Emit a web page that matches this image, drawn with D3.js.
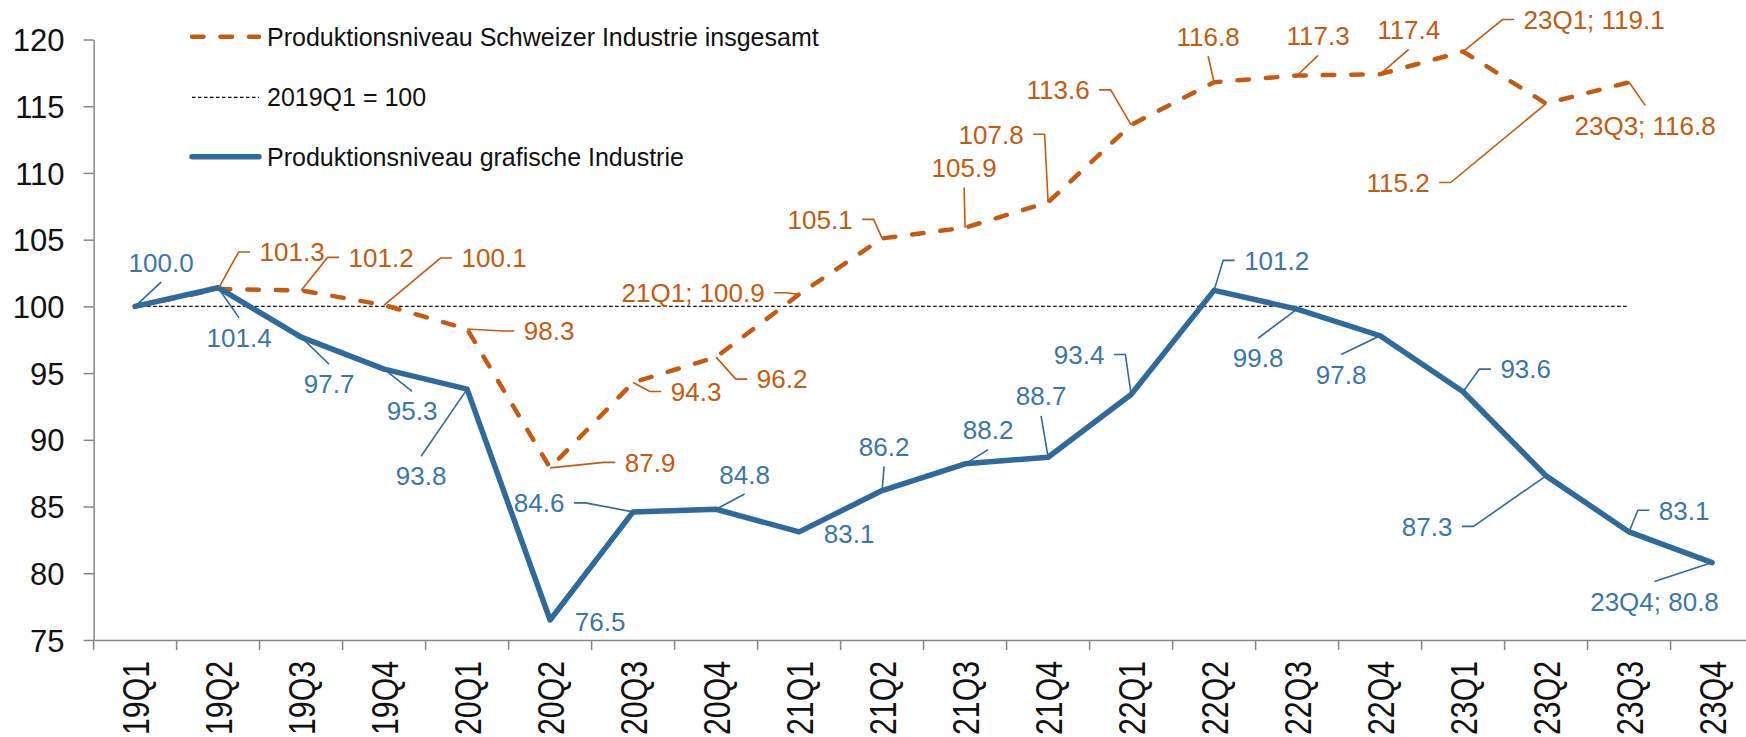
<!DOCTYPE html>
<html>
<head>
<meta charset="utf-8">
<script src="https://cdn.jsdelivr.net/npm/d3@7"></script>
<style>
  html, body { margin: 0; padding: 0; background: #ffffff; }
  svg { display: block; }
</style>
</head>
<body>
<svg id="chart" width="1746" height="737"></svg>
<script>
// ---------- data ----------
const categories = ["19Q1","19Q2","19Q3","19Q4","20Q1","20Q2","20Q3","20Q4","21Q1","21Q2",
                    "21Q3","21Q4","22Q1","22Q2","22Q3","22Q4","23Q1","23Q2","23Q3","23Q4"];
const industryTotal = [100.0,101.3,101.2,100.1,98.3,87.9,94.3,96.2,100.9,105.1,
                       105.9,107.8,113.6,116.8,117.3,117.4,119.1,115.2,116.8,null];
const graphicIndustry = [100.0,101.4,97.7,95.3,93.8,76.5,84.6,84.8,83.1,86.2,
                         88.2,88.7,93.4,101.2,99.8,97.8,93.6,87.3,83.1,80.8];
const yTicks = [75,80,85,90,95,100,105,110,115,120];
const refValue = 100;
const refStart = "19Q1", refEnd = "23Q3";
const legendLabels = ["Produktionsniveau Schweizer Industrie insgesamt",
                      "2019Q1 = 100",
                      "Produktionsniveau grafische Industrie"];
// labels that also show the category name
const totalLabelWithCategory = [8, 16, 18];
const graphicLabelWithCategory = [19];

// ---------- label layout (offset of label centre from point, leader type) ----------
const totalLabelLayout = [
  null,[74,-37,'h'],[80,-33,'h'],[110,-47,'h'],[82,2,'h'],[100,-5.5,'h'],[63,9,'h'],[66,22,'h'],
  [-106,-1.6,'h'],[-62,-19,'h'],[-1,-60,'v'],[-57,-68,'h'],[-73,-35,'h'],[-6,-46,'v'],
  [21,-40,'v'],[28.6,-44.7,'v'],[131,-32,'h'],[-148,79,'h'],[16,43,'v'],null];
const graphicLabelLayout = [
  [26,-44,'v'],[21,50,'v'],[28,47,'v'],[28,42,'v'],[-46,87,'v'],[50,2,''],[-94,-9,'h'],
  [28.5,-35,'v'],[50,1.5,''],[2,-44,'v'],[23,-34,'v'],[-7,-61,'v'],[-52,-40,'h'],
  [62.6,-30,'h'],[-39,49,'v'],[-39,38.5,'v'],[62.6,-22.7,'h'],[-119,50.5,'h'],
  [55,-21.6,'h'],[-57.6,38.7,'v']];

// ---------- styles ----------
const ORANGE = "#C55A11";
const BLUE_LINE = "#2F6A9A";
const BLUE_TEXT = "#3A76AB";
const AXIS_GRAY = "#868686";
const FONT = "'Liberation Sans', Arial, sans-serif";
const LABEL_SIZE = 26;
const CAP = 0.716;

const svg = d3.select("#chart");
svg.append("rect").attr("width",1746).attr("height",737).attr("fill","#fff");

const xBand = d3.scaleBand().domain(categories).range([93.6, 1753.6]);
const x = d3.scalePoint().domain(categories).range([93.6, 1753.6]).padding(0.5);
const y = d3.scaleLinear().domain([75, 120]).range([640, 39.5]);

// ---------- y axis ----------
const yAxis = svg.append("g").attr("transform","translate(93.6,0)")
  .call(d3.axisLeft(y).tickValues(yTicks).tickSizeInner(10).tickSizeOuter(0).tickPadding(19));
yAxis.select(".domain").attr("stroke", AXIS_GRAY).attr("stroke-width", 1.5);
yAxis.selectAll(".tick line").attr("stroke", AXIS_GRAY).attr("stroke-width", 1.5);
yAxis.selectAll(".tick text").attr("font-family", FONT).attr("font-size", 31)
  .attr("fill", "#111").attr("dy", null).attr("dominant-baseline", null)
  .attr("y", 31*CAP/2);

// ---------- x axis ----------
const xAxis = svg.append("g").attr("transform","translate(0,640)")
  .call(d3.axisBottom(x).tickSizeInner(0).tickSizeOuter(0));
xAxis.select(".domain").attr("stroke", AXIS_GRAY).attr("stroke-width", 1.5);
xAxis.selectAll(".tick line").remove();
xAxis.selectAll(".tick text")
  .attr("font-family", "'Liberation Sans Narrow', 'Liberation Sans', Arial, sans-serif")
  .attr("font-size", 37).attr("fill", "#111")
  .attr("x", 0).attr("y", 0).attr("dy", null)
  .attr("text-anchor", "end")
  .attr("textLength", 74).attr("lengthAdjust", "spacingAndGlyphs")
  .attr("transform", `translate(${37*CAP/2},21) rotate(-90)`);
const boundaries = categories.map(c => xBand(c)).concat([xBand.range()[1]]);
xAxis.selectAll(".btick").data(boundaries).join("line").attr("class","btick")
  .attr("x1", d => d).attr("x2", d => d).attr("y1", 0).attr("y2", 10)
  .attr("stroke", AXIS_GRAY).attr("stroke-width", 1.5);

// ---------- reference line ----------
svg.append("line")
  .attr("x1", x(refStart)).attr("x2", x(refEnd))
  .attr("y1", y(refValue)).attr("y2", y(refValue))
  .attr("stroke", "#000").attr("stroke-width", 1.3).attr("stroke-dasharray", "3.5 2.5");

// ---------- series lines ----------
const lineGen = d3.line()
  .defined(d => d.v != null)
  .x(d => x(d.c)).y(d => y(d.v));

const totalData = categories.map((c,i) => ({c, v: industryTotal[i], i}));
const graphicData = categories.map((c,i) => ({c, v: graphicIndustry[i], i}));

svg.append("path").datum(totalData).attr("d", lineGen)
  .attr("fill","none").attr("stroke", ORANGE).attr("stroke-width", 4.5)
  .attr("stroke-dasharray", "11.5 17").attr("stroke-linecap","round").attr("stroke-linejoin","round");

svg.append("path").datum(graphicData).attr("d", lineGen)
  .attr("fill","none").attr("stroke", BLUE_LINE).attr("stroke-width", 5.5)
  .attr("stroke-linejoin","round").attr("stroke-linecap","round");

// ---------- data labels with leader lines ----------
function drawLabels(data, layout, withCat, lineColor, textColor) {
  const g = svg.append("g");
  data.forEach(d => {
    const lay = layout[d.i];
    if (d.v == null || !lay) return;
    const px = x(d.c), py = y(d.v);
    const cx = px + lay[0], cy = py + lay[1];
    const txt = (withCat.includes(d.i) ? d.c + "; " : "") + d.v.toFixed(1);
    const t = g.append("text")
      .attr("x", cx).attr("y", cy + LABEL_SIZE*CAP/2)
      .attr("text-anchor","middle")
      .attr("font-family", FONT).attr("font-size", LABEL_SIZE)
      .attr("fill", textColor).text(txt);
    const w = t.node().getComputedTextLength();
    const capH = LABEL_SIZE*CAP;
    let path = null;
    if (lay[2] === 'v') {
      const ey = lay[1] < 0 ? cy + capH/2 + 10.5 : cy - capH/2 - 10.5;
      path = `M${px},${py}L${cx},${ey}`;
    } else if (lay[2] === 'h') {
      let edge, stub;
      if (px > cx) { edge = cx + w/2 + 9.5; stub = edge + 11.5; }
      else { edge = cx - w/2 - 9.5; stub = edge - 11.5; }
      path = `M${px},${py}L${stub},${cy}L${edge},${cy}`;
    }
    if (path) {
      g.insert("path", "text").attr("d", path).attr("fill","none")
        .attr("stroke", lineColor).attr("stroke-width", 1.6);
    }
  });
}
drawLabels(totalData, totalLabelLayout, totalLabelWithCategory, ORANGE, ORANGE);
drawLabels(graphicData, graphicLabelLayout, graphicLabelWithCategory, BLUE_LINE, BLUE_TEXT);

// ---------- legend ----------
const legend = svg.append("g");
const legendRows = [
  {y: 36.7, stroke: ORANGE, width: 4.5, dash: "11.5 17", cap: "round"},
  {y: 97.3, stroke: "#000", width: 1.3, dash: "3.5 2.5", cap: "butt"},
  {y: 156.7, stroke: BLUE_LINE, width: 5.5, dash: null, cap: "round"}
];
legendRows.forEach((r, k) => {
  legend.append("line").attr("x1", 192).attr("x2", 259).attr("y1", r.y).attr("y2", r.y)
    .attr("stroke", r.stroke).attr("stroke-width", r.width)
    .attr("stroke-dasharray", r.dash).attr("stroke-linecap", r.cap);
  legend.append("text").attr("x", 267).attr("y", r.y + 25*CAP/2)
    .attr("font-family", FONT).attr("font-size", 25).attr("fill", "#111")
    .text(legendLabels[k]);
});
</script>
</body>
</html>
